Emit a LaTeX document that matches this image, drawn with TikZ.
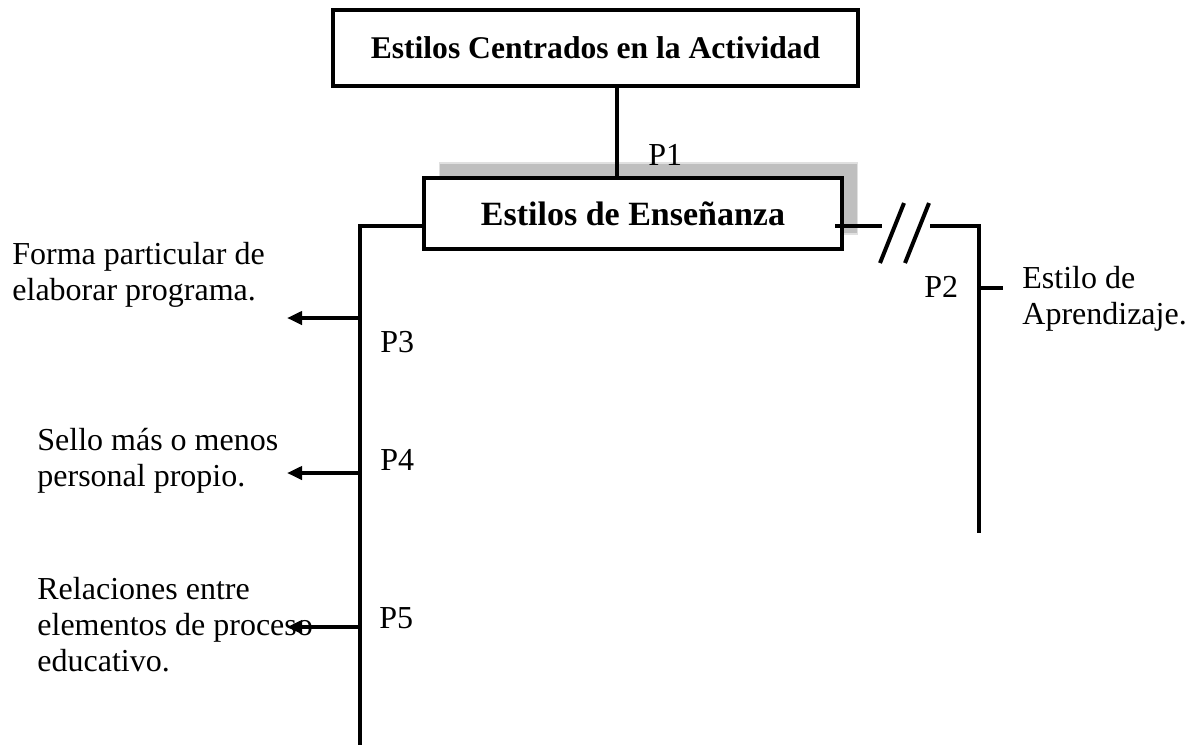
\documentclass[tikz,border=0pt]{standalone}
\usepackage{fontspec}
\setmainfont{Liberation Serif}
\usepackage{tikz}
\usetikzlibrary{arrows.meta}
\usetikzlibrary{calc}
\usetikzlibrary{shadows}
\tikzset{every picture/.style={>={Triangle[length=7.5pt,width=6.5pt]}}}
\tikzstyle{block}    = [draw, line width=2pt, rectangle, fill=white, inner sep=0pt]
\tikzstyle{wire}     = [line width=2pt]
\tikzstyle{flow}     = [->, line width=2pt]
\tikzstyle{tag}      = [inner sep=0pt, anchor=west, font=\fontsize{16}{18}\selectfont]
\tikzstyle{note}     = [inner sep=0pt, anchor=west, align=left, font=\fontsize{16}{18}\selectfont]
\tikzstyle{terminal} = [coordinate]

\begin{document}
\begin{tikzpicture}[x=0.5pt, y=-0.5pt]
	\useasboundingbox (0,0) rectangle (1199,745);
	\node[block, minimum width=262.5pt, minimum height=38pt, font=\fontsize{15.8}{18}\selectfont\bfseries] (Actividad) at (595.5,48) {Estilos Centrados en la Actividad};
	\node[block, minimum width=209pt, minimum height=35.5pt, font=\fontsize{17}{18}\selectfont\bfseries,
		copy shadow={shadow xshift=7.75pt, shadow yshift=7.5pt, fill=black!25, draw=black!12, line width=0.8pt}] (Ensenanza) at (633,213.5) {Estilos de Enseñanza};
	
	\coordinate[terminal] (p1)   at (617,0);
	\coordinate[terminal] (busY) at (0,226);
	\coordinate[terminal] (busL) at (360,745);
	\coordinate[terminal] (cutA) at (882,226);
	\coordinate[terminal] (cutB) at (930,226);
	\coordinate[terminal] (busR) at (979,533);
	\coordinate[terminal] (tickA) at (979,288);
	\coordinate[terminal] (tickB) at (1003,288);
	\coordinate[terminal] (b3) at (360,318);
	\coordinate[terminal] (t3) at (287,318);
	\coordinate[terminal] (b4) at (360,473);
	\coordinate[terminal] (t4) at (287,473);
	\coordinate[terminal] (b5) at (360,627);
	\coordinate[terminal] (t5) at (287,627);
	
	\draw[wire] (p1 |- Actividad.south) -- (p1 |- Ensenanza.north);
	\draw[wire] (Ensenanza.west |- busY) -| (busL);
	\draw[wire] ([xshift=-4.5pt]Ensenanza.east |- busY) -- (cutA);
	\draw[wire] (cutB) -| (busR);
	\draw[wire] (880,263) -- (904,203);
	\draw[wire] (905,263) -- (929,203);
	\draw[wire] (tickA) -- (tickB);
	\draw[flow] (b3) -- (t3);
	\draw[flow] (b4) -- (t4);
	\draw[flow] (b5) -- (t5);
	
	\node[tag] (P1) at (648,155) {P1};
	\node[tag] (P2) at (924,287) {P2};
	\node[tag] (P3) at (380,342) {P3};
	\node[tag] (P4) at (380,460) {P4};
	\node[tag] (P5) at (379,618) {P5};
	\node[note] (forma)       at (12,275)   {Forma particular de\\elaborar programa.};
	\node[note] (sello)       at (37,461)   {Sello más o menos\\personal propio.};
	\node[note] (relaciones)  at (37,625)   {Relaciones entre\\elementos de proceso\\educativo.};
	\node[note] (aprendizaje) at (1022,299) {Estilo de\\Aprendizaje.};
\end{tikzpicture}
\end{document}
